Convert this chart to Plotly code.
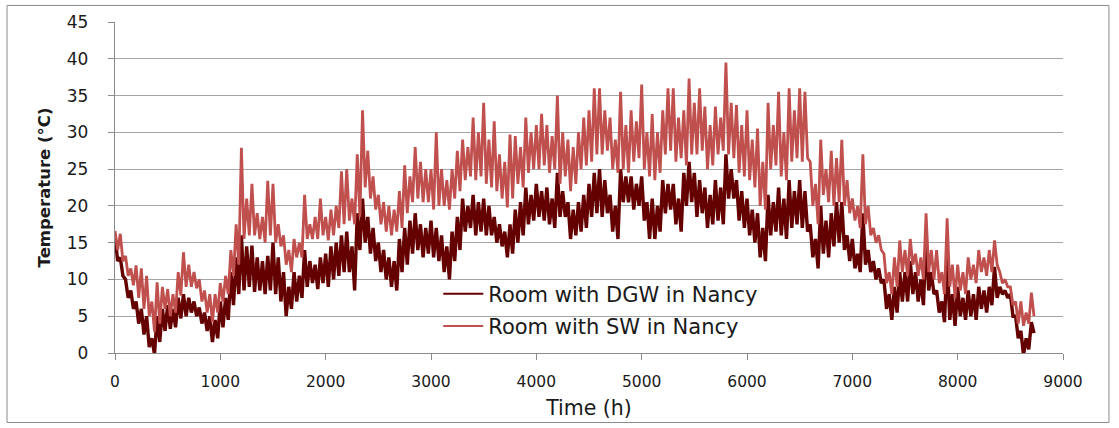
import plotly.graph_objects as go

# Hourly simulation in 50-hour windows:
# each window has the daily high and the daily low seen in it.
win_start_h = list(range(0, 8750, 50))   # 0 ... 8700

sw_hi = [16.6, 16.2, 13.2, 11.5, 11.9, 11.5, 10.5, 7.0, 9.6, 9.0,
         8.7, 8.0, 11.0, 13.7, 12.0, 11.0, 10.0, 8.5, 8.0, 8.0,
         9.5, 10.5, 14.0, 17.5, 27.9, 21.0, 23.0, 19.0, 18.5, 23.4,
         23.0, 17.5, 16.0, 14.0, 15.5, 15.0, 21.5, 17.5, 18.5, 21.0,
         18.5, 19.5, 20.0, 24.7, 25.0, 21.0, 27.0, 33.0, 27.5, 24.0,
         21.5, 20.5, 20.0, 19.5, 22.0, 25.5, 24.0, 28.0, 26.0, 25.0,
         25.0, 30.0, 25.0, 23.5, 25.0, 27.5, 29.0, 28.0, 32.0, 30.0,
         34.0, 29.0, 31.5, 27.0, 26.0, 29.7, 29.5, 28.0, 32.0, 30.0,
         31.0, 32.5, 31.0, 29.5, 35.0, 30.0, 29.0, 28.0, 30.0, 32.0,
         33.0, 36.0, 36.0, 33.0, 32.0, 29.0, 35.5, 31.0, 33.0, 31.5,
         36.5, 30.0, 32.5, 30.0, 33.0, 36.0, 36.0, 32.0, 33.0, 37.3,
         34.0, 36.0, 33.5, 31.0, 33.5, 32.0, 39.5, 34.0, 33.7, 31.0,
         33.0, 29.0, 30.5, 26.0, 34.0, 31.0, 35.5, 30.0, 36.0, 33.0,
         36.0, 35.5, 26.0, 23.0, 29.0, 25.0, 27.5, 26.5, 29.0, 23.5,
         21.0, 20.0, 27.0, 20.0, 17.0, 16.0, 13.5, 11.0, 13.0, 15.3,
         14.0, 15.5, 13.5, 13.0, 19.0, 14.0, 14.0, 11.0, 18.3, 12.0,
         12.0, 11.0, 13.0, 12.0, 14.0, 13.0, 14.0, 15.3, 11.0, 10.0,
         9.0, 7.0, 7.0, 5.5, 8.2]
sw_lo = [14.0, 12.5, 10.5, 9.2, 7.5, 6.0, 5.0, 2.9, 4.0, 6.0,
         5.0, 5.5, 7.8, 9.0, 9.0, 8.8, 7.0, 5.5, 4.2, 5.5,
         7.0, 8.0, 10.5, 12.0, 15.5, 16.0, 16.0, 15.5, 15.0, 16.0,
         15.0, 14.5, 12.0, 11.0, 13.0, 13.0, 15.5, 15.5, 15.5, 16.0,
         15.3, 16.0, 17.0, 17.5, 18.0, 17.5, 18.5, 22.5, 21.0, 19.5,
         17.5, 16.5, 16.0, 16.5, 17.0, 19.0, 20.5, 21.0, 20.5, 20.5,
         19.5, 20.0, 20.0, 19.5, 21.0, 22.0, 23.5, 24.0, 23.5, 24.0,
         23.0, 22.5, 22.0, 21.0, 19.8, 21.0, 23.0, 22.5, 24.5, 25.0,
         25.0, 25.5, 24.5, 25.0, 23.0, 24.0, 22.0, 23.0, 25.0, 25.5,
         26.0, 27.0, 27.0, 27.5, 25.0, 24.5, 25.0, 24.5, 26.0, 26.5,
         25.0, 24.0, 23.5, 24.5, 27.0, 27.5, 26.0, 26.5, 25.5, 27.0,
         27.0, 27.5, 25.0, 25.5, 27.0, 27.5, 27.0, 26.5, 24.5, 24.0,
         23.5, 22.5, 20.0, 19.5, 25.0, 25.5, 24.0, 23.5, 26.0, 26.5,
         26.0, 26.5, 20.0, 17.5, 21.5, 20.5, 20.0, 20.5, 20.0, 19.0,
         18.0, 17.0, 17.5, 16.0, 15.0, 14.0, 9.5, 8.0, 9.0, 11.0,
         10.5, 12.0, 10.5, 10.0, 11.0, 10.0, 9.5, 8.0, 9.0, 7.5,
         8.5, 8.0, 10.0, 9.5, 11.0, 10.5, 11.0, 12.0, 9.5, 9.0,
         6.5, 4.0, 3.7, 4.0, 5.0]

dgw_hi = [16.0, 13.0, 10.0, 8.5, 7.0, 6.0, 5.0, 2.0, 5.0, 6.0,
          6.5, 6.0, 7.5, 8.0, 7.5, 7.0, 6.2, 5.5, 5.0, 4.5,
          7.0, 7.5, 11.0, 13.0, 16.0, 14.5, 14.6, 13.0, 12.5, 13.2,
          15.0, 13.0, 11.0, 9.0, 11.0, 10.5, 14.0, 12.5, 12.0, 13.0,
          13.5, 14.5, 15.0, 16.0, 16.5, 14.5, 19.0, 21.0, 18.5, 17.0,
          15.0, 14.0, 13.0, 12.5, 15.5, 17.0, 18.0, 19.0, 17.5, 17.0,
          18.0, 17.0, 16.0, 14.5, 16.5, 18.5, 21.0, 20.0, 21.5, 20.5,
          21.0, 20.0, 18.5, 17.5, 16.5, 17.5, 19.5, 20.5, 22.5, 21.5,
          23.0, 22.0, 22.5, 21.0, 24.5, 22.0, 20.5, 19.5, 20.5, 21.5,
          23.0, 24.5, 25.0, 23.5, 21.5, 20.0, 25.0, 24.0, 24.0, 23.0,
          24.0, 20.5, 21.0, 20.0, 23.5, 23.0, 23.0, 21.0, 24.5, 26.0,
          24.5, 23.5, 22.5, 21.5, 23.5, 22.5, 27.0, 25.0, 23.5, 22.0,
          21.0, 19.5, 19.0, 17.0, 21.5, 20.5, 22.5, 21.0, 23.5, 22.0,
          23.5, 22.0, 17.5, 15.5, 20.0, 18.0, 19.0, 20.5, 20.5, 16.0,
          15.5, 13.5, 19.0, 14.0, 12.5, 11.5, 10.0, 8.0, 9.0, 11.0,
          11.0, 12.5, 11.0, 10.0, 15.5, 11.0, 8.5, 7.0, 13.0, 8.0,
          9.0, 7.5, 8.5, 8.0, 9.0, 8.5, 9.0, 11.7, 9.0, 8.5,
          8.0, 5.0, 3.0, 2.0, 4.2]
dgw_lo = [12.5, 10.5, 7.5, 6.0, 4.0, 2.5, 0.8, -0.2, 1.5, 3.0,
          3.3, 3.5, 4.7, 5.0, 5.5, 5.0, 4.0, 3.0, 1.5, 2.0,
          3.5, 4.5, 6.5, 8.0, 8.5, 9.0, 8.3, 8.5, 8.0, 8.5,
          8.0, 7.0, 5.0, 6.0, 7.0, 7.5, 9.0, 9.5, 8.7, 9.5,
          9.0, 10.0, 10.5, 11.0, 11.0, 8.5, 14.0, 15.0, 13.5, 12.5,
          11.0, 10.0, 9.0, 8.5, 11.0, 12.0, 13.5, 14.0, 13.0, 13.5,
          13.0, 12.5, 11.0, 10.0, 12.5, 14.0, 16.5, 17.0, 16.0, 16.5,
          16.0, 16.0, 15.0, 14.5, 13.0, 13.5, 15.0, 16.0, 17.5, 18.0,
          18.5, 18.0, 17.5, 17.0, 18.5, 18.5, 15.5, 16.0, 16.5, 17.0,
          18.5, 19.0, 18.5, 19.0, 16.5, 15.5, 20.5, 20.5, 19.5, 20.0,
          18.0, 15.5, 15.5, 16.5, 19.0, 19.5, 17.5, 16.5, 20.0, 20.5,
          18.5, 19.0, 17.0, 17.5, 18.0, 17.5, 21.0, 21.0, 18.0, 17.0,
          16.0, 15.0, 13.0, 12.5, 16.0, 16.5, 16.0, 15.5, 17.0, 17.5,
          17.0, 16.5, 13.0, 11.5, 13.5, 13.0, 14.5, 15.0, 14.0, 12.5,
          11.5, 11.0, 12.0, 11.0, 10.0, 9.5, 6.0, 4.5, 5.5, 7.0,
          7.0, 8.0, 7.0, 6.5, 8.5, 8.0, 5.5, 4.2, 4.5, 3.7,
          5.0, 4.5, 5.0, 4.5, 6.0, 5.5, 6.5, 7.5, 8.0, 7.5,
          5.0, 2.0, -0.3, 0.5, 2.7]

x_ticks = [0, 1000, 2000, 3000, 4000, 5000, 6000, 7000, 8000, 9000]
y_ticks = [0, 5, 10, 15, 20, 25, 30, 35, 40, 45]

series_names = ["Room with DGW in Nancy", "Room with SW in Nancy"]
series_colors = ["#650000", "#C0504D"]
series_widths = [3.4, 2.8]

FONT = "DejaVu Sans"

fig = go.Figure()
for name, color, width, hi, lo, grp in [
    (series_names[0], series_colors[0], series_widths[0], dgw_hi, dgw_lo, "a"),
    (series_names[1], series_colors[1], series_widths[1], sw_hi, sw_lo, "b"),
]:
    # hourly trace drawn as the alternation of each window's high and low
    xs, ys = [], []
    for t, h, l in zip(win_start_h, hi, lo):
        xs += [t, t + 25]
        ys += [h, l]
    fig.add_trace(go.Scatter(x=xs, y=ys, mode="lines", name=name,
                             legendgroup=grp, showlegend=False,
                             line=dict(color=color, width=width,
                                       simplify=False)))
    # legend entry with the thin stroke used in the original key
    fig.add_trace(go.Scatter(x=[None], y=[None], mode="lines", name=name,
                             legendgroup=grp, showlegend=True,
                             line=dict(color=color, width=2)))

fig.update_layout(
    width=1119, height=428,
    margin=dict(l=115, r=56, t=20, b=75),
    paper_bgcolor="white", plot_bgcolor="white",
    font=dict(family=FONT, color="#1a1a1a", size=16),
    showlegend=True,
    legend=dict(x=0.341, y=0.24, xanchor="left", yanchor="top",
                bgcolor="rgba(0,0,0,0)", font=dict(size=21, family=FONT),
                tracegroupgap=2, itemwidth=40),
    shapes=[
        dict(type="rect", xref="paper", yref="paper", x0=0.317, x1=0.766,
             y0=0.024, y1=0.25, fillcolor="white", line=dict(width=0),
             layer="between"),
        dict(type="rect", xref="paper", yref="paper", x0=-0.1139, x1=1.0485,
             y0=-0.21, y1=1.05, line=dict(color="#8c8c8c", width=1),
             fillcolor="rgba(0,0,0,0)", layer="below"),
    ],
)
fig.update_xaxes(range=[0, 9000], tickvals=x_ticks, showgrid=False,
                 showline=True, linecolor="#8c8c8c", linewidth=1.3,
                 ticks="outside", ticklen=6, tickcolor="#8c8c8c",
                 zeroline=False, tickfont=dict(size=15.5),
                 ticklabelstandoff=8,
                 title=dict(text="Time (h)", font=dict(size=20.5), standoff=10))
fig.update_yaxes(range=[0, 45], tickvals=y_ticks, showgrid=True,
                 gridcolor="#a6a6a6", gridwidth=1.3,
                 showline=True, linecolor="#8c8c8c", linewidth=1.3,
                 ticks="outside", ticklen=6, tickcolor="#8c8c8c",
                 zeroline=False, tickfont=dict(size=17),
                 ticklabelstandoff=16,
                 title=dict(text="<b>Temperature (°C)</b>",
                            font=dict(size=16.5), standoff=12))

fig.write_html("out.html")
